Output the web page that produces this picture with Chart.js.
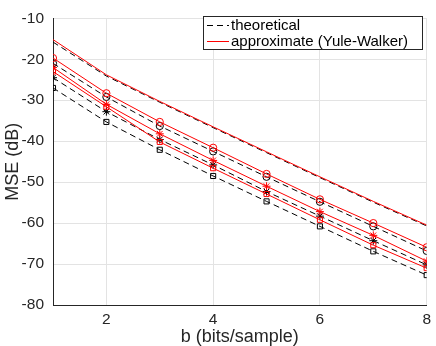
<!DOCTYPE html>
<html lang="en">
<head>
    <meta charset="UTF-8">
    <script src="https://cdn.jsdelivr.net/npm/chart.js"></script>
    <title>MSE vs bits</title>
    <style>
        body { margin: 0; background: #fff; }
        #wrap { width: 436px; height: 346px; }
    </style>
</head>
<body>
<div id="wrap"><canvas id="myChart"></canvas></div>
<script>
    const bits = [1, 2, 3, 4, 5, 6, 7, 8];
    const xTicks = [2, 4, 6, 8];

    // top pair (no markers)
    const topApprox  = [-15.2, -23.8, -30.3, -36.5, -42.6, -48.7, -54.7, -60.5];
    const topTheory  = [-15.8, -24.1, -30.5, -36.7, -42.8, -48.9, -54.9, -60.7];
    // circles
    const circApprox = [-19.7, -28.3, -35.3, -41.6, -48.0, -54.2, -60.0, -65.9];
    const circTheory = [-21.0, -29.2, -36.3, -42.5, -48.7, -54.8, -60.8, -66.8];
    // asterisks
    const astApprox  = [-22.0, -31.0, -38.2, -44.7, -51.0, -57.2, -63.0, -69.3];
    const astTheory  = [-24.5, -32.8, -39.6, -45.8, -52.3, -58.3, -64.3, -70.2];
    // squares
    const sqApprox   = [-23.0, -31.6, -40.2, -46.6, -52.9, -59.2, -65.4, -71.0];
    const sqTheory   = [-27.0, -35.3, -42.1, -48.5, -54.7, -60.8, -66.9, -72.7];

    const FONT = "'Liberation Sans', Arial, Helvetica, sans-serif";
    const TXT = '#262626';

    function pts(arr) {
        return bits.map((b, i) => ({ x: b, y: arr[i] }));
    }

    function approx(arr, style) {
        return {
            data: pts(arr),
            borderColor: '#ff0000',
            borderWidth: 1,
            pointStyle: style || 'circle',
            pointRadius: style ? (style === 'star' ? 4 : 3.6) : 0,
            pointBorderColor: '#ff0000',
            pointBackgroundColor: 'rgba(0,0,0,0)',
            pointBorderWidth: 1,
            tension: 0,
            fill: false
        };
    }

    function theory(arr, style) {
        return {
            data: pts(arr),
            borderColor: '#000000',
            borderWidth: 1,
            borderDash: [6, 4],
            pointStyle: style || 'circle',
            pointRadius: style ? (style === 'star' ? 4 : 3.6) : 0,
            pointBorderColor: '#000000',
            pointBackgroundColor: 'rgba(0,0,0,0)',
            pointBorderWidth: 1,
            tension: 0,
            fill: false
        };
    }

    // legend drawn inside the axes, MATLAB style
    const boxLegend = {
        id: 'boxLegend',
        afterDatasetsDraw(chart) {
            const ctx = chart.ctx;
            const x0 = 203, y0 = 16, x1 = 422, y1 = 49;
            ctx.save();
            ctx.fillStyle = '#fff';
            ctx.fillRect(x0, y0, x1 - x0, y1 - y0);
            ctx.strokeStyle = '#262626';
            ctx.lineWidth = 1;
            ctx.strokeRect(x0 + 0.5, y0 + 0.5, x1 - x0, y1 - y0);

            ctx.lineWidth = 1;
            ctx.strokeStyle = '#000';
            ctx.setLineDash([6, 4]);
            ctx.beginPath();
            ctx.moveTo(207, 25.5);
            ctx.lineTo(229, 25.5);
            ctx.stroke();

            ctx.setLineDash([]);
            ctx.strokeStyle = '#ff0000';
            ctx.beginPath();
            ctx.moveTo(207, 41.5);
            ctx.lineTo(229, 41.5);
            ctx.stroke();

            ctx.fillStyle = '#000';
            ctx.font = '15px ' + FONT;
            ctx.textBaseline = 'middle';
            ctx.textAlign = 'left';
            ctx.fillText('theoretical', 231, 26);
            ctx.fillText('approximate (Yule-Walker)', 231, 42);
            ctx.restore();
        }
    };

    const ctx = document.getElementById('myChart').getContext('2d');

    new Chart(ctx, {
        type: 'line',
        data: {
            datasets: [
                approx(topApprox),
                approx(circApprox, 'circle'),
                approx(astApprox, 'star'),
                approx(sqApprox, 'rect'),
                theory(topTheory),
                theory(circTheory, 'circle'),
                theory(astTheory, 'star'),
                theory(sqTheory, 'rect')
            ]
        },
        options: {
            responsive: true,
            maintainAspectRatio: false,
            animation: false,
            layout: { padding: { top: 8, right: 5, left: 0, bottom: 0 } },
            plugins: {
                legend: { display: false },
                tooltip: { enabled: false }
            },
            scales: {
                x: {
                    type: 'linear',
                    min: 1,
                    max: 8,
                    afterBuildTicks: (axis) => {
                        axis.ticks = xTicks.map(v => ({ value: v }));
                    },
                    afterFit: (axis) => { axis.height = 41; },
                    grid: { color: '#e3e3e3', drawTicks: false },
                    border: { display: true, color: TXT, width: 1 },
                    ticks: {
                        color: TXT,
                        padding: 5,
                        maxRotation: 0,
                        font: { family: FONT, size: 15.5 }
                    },
                    title: {
                        display: true,
                        text: 'b (bits/sample)',
                        color: TXT,
                        padding: { top: 0, bottom: -2 },
                        font: { family: FONT, size: 18 }
                    }
                },
                y: {
                    min: -80,
                    max: -10,
                    afterFit: (axis) => { axis.width = 53; },
                    grid: { color: '#e3e3e3', drawTicks: false },
                    border: { display: true, color: TXT, width: 1 },
                    ticks: {
                        stepSize: 10,
                        color: TXT,
                        padding: 9,
                        font: { family: FONT, size: 15.5 }
                    },
                    title: {
                        display: true,
                        text: 'MSE (dB)',
                        color: TXT,
                        padding: { top: 2, bottom: 0 },
                        font: { family: FONT, size: 18 }
                    }
                }
            }
        },
        plugins: [boxLegend]
    });
</script>
</body>
</html>
